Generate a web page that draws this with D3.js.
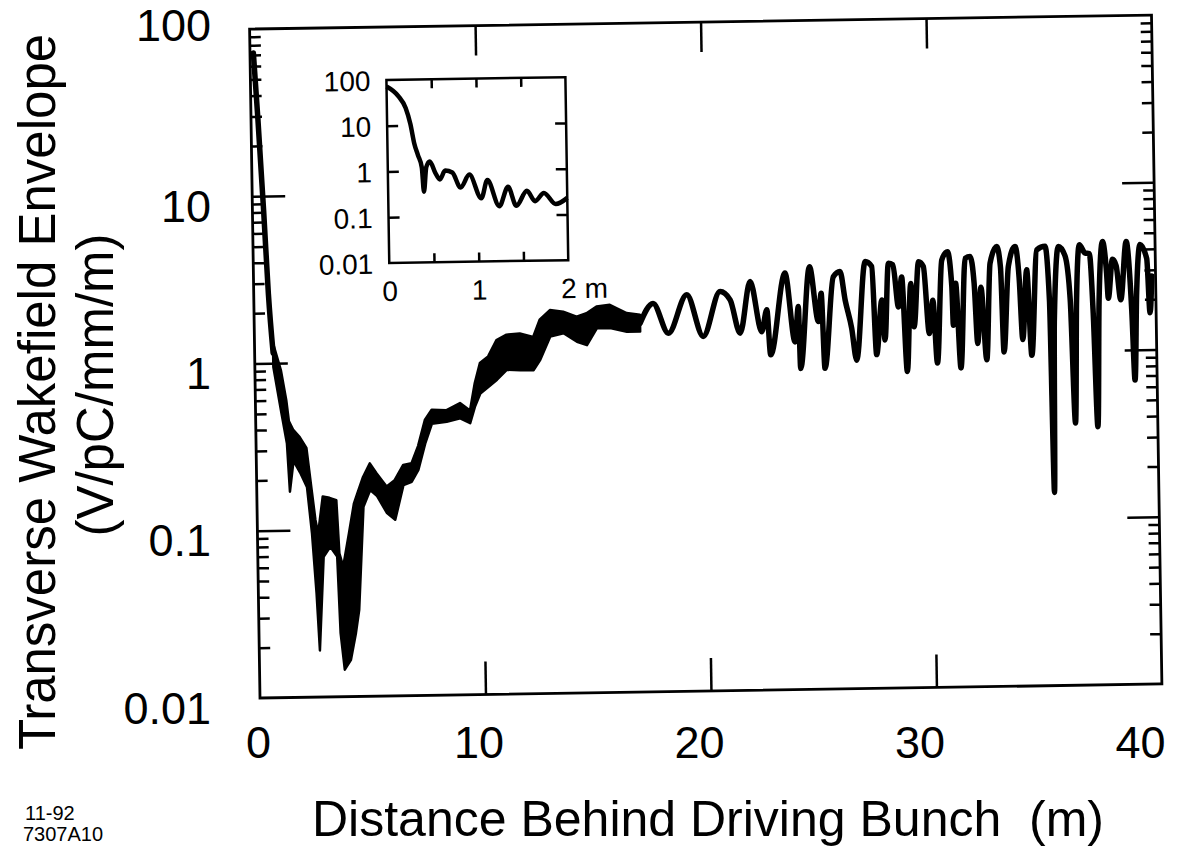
<!DOCTYPE html>
<html lang="en">
<head>
<meta charset="UTF-8">
<title>Transverse Wakefield Envelope</title>
<script src="https://d3js.org/d3.v7.min.js"></script>
<style>
  body { margin: 0; background: #fff; }
  svg { display: block; }
  text { font-family: "Liberation Sans", Arial, Helvetica, sans-serif; fill: #000; }
</style>
</head>
<body>
<svg id="chart" width="1199" height="846"></svg>
<script>
// ---- data ----
// noisy band part of the main trace (upper / lower edge), metres behind bunch
const bandDist = [0.82, 1.15, 1.37, 1.47, 1.65, 1.94, 2.23, 2.42, 2.58, 2.69, 2.92, 3.22, 3.52, 3.62, 3.78,
  4.06, 4.30, 4.46, 4.72, 5.03, 5.32, 5.76, 6.12, 6.51, 6.88, 7.18, 7.50, 7.81, 8.47, 9.07, 9.51, 9.74,
  9.98, 10.35, 10.73, 11.18, 11.77, 12.36, 12.66, 13.12, 13.71, 14.30, 14.74, 15.19, 15.78, 16.52, 17.11];
const bandHigh = [1.32, 0.91, 0.60, 0.45, 0.40, 0.36, 0.31, 0.18, 0.115, 0.095, 0.158, 0.155, 0.15, 0.072, 0.060,
  0.095, 0.143, 0.164, 0.205, 0.247, 0.215, 0.179, 0.195, 0.24, 0.245, 0.31, 0.443, 0.51, 0.505, 0.555, 0.50, 0.73,
  0.96, 1.05, 1.31, 1.41, 1.43, 1.36, 1.72, 1.96, 1.91, 1.78, 1.86, 2.04, 2.08, 1.85, 1.80];
const bandLow = [0.95, 0.50, 0.33, 0.17, 0.26, 0.22, 0.18, 0.095, 0.042, 0.019, 0.069, 0.079, 0.069, 0.024, 0.0145,
  0.0166, 0.024, 0.033, 0.136, 0.171, 0.158, 0.124, 0.113, 0.182, 0.19, 0.223, 0.32, 0.42, 0.43, 0.45, 0.42, 0.53,
  0.63, 0.69, 0.76, 0.87, 0.86, 0.86, 0.99, 1.36, 1.42, 1.26, 1.20, 1.51, 1.51, 1.43, 1.43];

// first steep drop along the left axis
const dropDist = [0.15, 0.30, 0.50, 0.65, 0.82];
const dropVal = [72, 30, 8, 2.6, 1.15];

// single oscillating trace, 17 m .. 40 m
const waveDist = [17.11, 17.7, 18.36, 19.2, 19.9, 20.68, 21.12, 21.54, 22.02, 22.5, 22.74, 22.88, 23.57, 23.97,
  24.14, 24.2, 24.66, 25.02, 25.16, 25.28, 25.71, 26.01, 26.22, 26.49, 26.69, 27.13, 27.42, 27.58, 27.85, 27.96,
  28.16, 28.36, 28.58, 28.74, 28.93, 29.14, 29.26, 29.5, 29.71, 29.93, 30.11, 30.27, 30.53, 30.79, 30.96, 31.0,
  31.13, 31.31, 31.57, 31.79, 31.95, 32.07, 32.25, 32.46, 32.67, 32.98, 33.13, 33.23, 33.48, 33.79, 33.95, 34.07,
  34.29, 34.46, 34.75, 35.12, 35.28, 35.37, 35.48, 35.71, 36.0, 36.2, 36.35, 36.48, 36.64, 36.89, 37.08, 37.21,
  37.34, 37.48, 37.67, 37.83, 37.89, 38.1, 38.26, 38.44, 38.72, 38.92, 39.02, 39.15, 39.33, 39.62, 39.73, 39.83];
const waveVal = [1.60, 2.1, 1.39, 2.35, 1.32, 2.44, 2.17, 1.37, 2.78, 1.39, 1.88, 1.01, 3.1, 1.2,
  1.95, 0.83, 3.37, 1.58, 2.33, 0.83, 2.92, 3.13, 2.11, 1.43, 0.92, 3.57, 3.33, 0.99, 2.1, 1.21,
  3.47, 3.4, 1.9, 2.87, 0.78, 2.62, 1.44, 3.52, 3.3, 1.31, 2.07, 0.87, 3.59, 4.02, 2.48, 1.46,
  2.6, 0.81, 3.66, 3.74, 2.59, 1.13, 2.45, 0.9, 3.4, 4.27, 3.2, 1.0, 3.25, 4.26, 2.75, 1.18,
  3.08, 0.95, 4.05, 4.24, 2.0, 0.143, 1.5, 4.22, 3.7, 2.02, 0.37, 2.0, 4.3, 3.83, 3.8, 1.68,
  0.35, 2.0, 4.48, 2.9, 2.05, 3.5, 3.2, 2.0, 4.46, 1.74, 0.66, 2.2, 4.26, 3.5, 1.66, 2.75];

// inset: first 2 m
const insetDist = [0, 0.13, 0.21, 0.26, 0.30, 0.34, 0.38, 0.40, 0.43, 0.47, 0.53, 0.58, 0.64, 0.72, 0.81,
  0.91, 1.04, 1.11, 1.24, 1.34, 1.43, 1.55, 1.64, 1.74, 1.87, 2.0];
const insetVal = [72, 44, 24, 10.7, 4, 2.2, 1.2, 0.35, 1.2, 1.6, 0.9, 0.64, 1.0, 0.9, 0.42,
  0.8, 0.24, 0.6, 0.16, 0.42, 0.16, 0.34, 0.2, 0.3, 0.17, 0.23];

const xTicks = [0, 10, 20, 30, 40];
const xInnerTicks = [10, 20, 30];
const yTicks = [0.01, 0.1, 1, 10, 100];
const yInnerTicks = [0.1, 1, 10];
const yTickLabels = ["0.01", "0.1", "1", "10", "100"];
const insetXTicks = [0, 1, 2];
const insetXLabels = ["0", "1", "2 m"];
const insetXInner = [0.5, 1, 1.5];

// ---- drawing ----
const svg = d3.select("#chart");
svg.append("rect").attr("width", 1199).attr("height", 846).attr("fill", "#fff");

const x = d3.scaleLinear().domain([0, 40]).range([260, 1162]);
const y = d3.scaleLog().domain([0.01, 100]).range([698, 29]);
// the pasted-up tick numbers sit a little off the ticks in the scan
const xLabel = d3.scaleLinear().domain([0, 40]).range([258, 1140]);
const tilt = -0.89;   // the scanned plot is slightly turned

const isDecade = v => Math.abs(Math.log10(v) - Math.round(Math.log10(v))) < 1e-6;
const minorTicks = y.ticks().filter(v => !isDecade(v));

const plot = svg.append("g")
    .attr("transform", `rotate(${tilt},${x(0)},${y(0.01)})`);

// band
const band = bandDist.map((d, i) => ({ d, hi: bandHigh[i], lo: bandLow[i] }));
plot.append("path")
    .datum(band)
    .attr("fill", "#000")
    .attr("stroke", "#000")
    .attr("stroke-width", 2.5)
    .attr("stroke-linejoin", "round")
    .attr("d", d3.area().x(p => x(p.d)).y0(p => y(p.lo)).y1(p => y(p.hi)));

const line = d3.line().x(p => x(p.d)).y(p => y(p.v)).curve(d3.curveMonotoneX);
[[dropDist, dropVal], [waveDist, waveVal]].forEach(([ds, vs]) => {
    plot.append("path")
        .datum(ds.map((d, i) => ({ d, v: vs[i] })))
        .attr("fill", "none")
        .attr("stroke", "#000")
        .attr("stroke-width", 5.5)
        .attr("stroke-linejoin", "round")
        .attr("stroke-linecap", "round")
        .attr("d", line);
});

// frame and ticks
plot.append("rect")
    .attr("x", x(0)).attr("y", y(100))
    .attr("width", x(40) - x(0)).attr("height", y(0.01) - y(100))
    .attr("fill", "none").attr("stroke", "#000").attr("stroke-width", 2.8);

function ticks(axis, tx, ty) {
    plot.append("g")
        .attr("transform", `translate(${tx},${ty})`)
        .call(axis.tickFormat("").tickSizeOuter(0))
        .call(g => g.select(".domain").remove())
        .selectAll("line").attr("stroke-width", 2.5);
}
ticks(d3.axisRight(y).tickValues(minorTicks).tickSize(11), x(0), 0);
ticks(d3.axisRight(y).tickValues(yInnerTicks).tickSize(33), x(0), 0);
ticks(d3.axisLeft(y).tickValues(minorTicks).tickSize(11), x(40), 0);
ticks(d3.axisLeft(y).tickValues(yInnerTicks).tickSize(32), x(40), 0);
ticks(d3.axisBottom(x).tickValues(xInnerTicks).tickSize(30), 0, y(100));
ticks(d3.axisTop(x).tickValues(xInnerTicks).tickSize(33), 0, y(0.01));

// inset
const xi = d3.scaleLinear().domain([0, 2]).range([396, 575]);
const yi = d3.scaleLog().domain([0.01, 100]).range([265, 82]);
plot.append("rect")
    .attr("x", xi(0)).attr("y", yi(100))
    .attr("width", xi(2) - xi(0)).attr("height", yi(0.01) - yi(100))
    .attr("fill", "#fff").attr("stroke", "#000").attr("stroke-width", 2.5);
plot.append("path")
    .datum(insetDist.map((d, i) => ({ d, v: insetVal[i] })))
    .attr("fill", "none")
    .attr("stroke", "#000")
    .attr("stroke-width", 4.5)
    .attr("stroke-linejoin", "round")
    .attr("d", d3.line().x(p => xi(p.d)).y(p => yi(p.v)).curve(d3.curveMonotoneX));

ticks(d3.axisRight(yi).tickValues(yInnerTicks).tickSize(11), xi(0), 0);
ticks(d3.axisLeft(yi).tickValues(yInnerTicks).tickSize(11), xi(2), 0);
ticks(d3.axisBottom(xi).tickValues(insetXInner).tickSize(9), 0, yi(100));
ticks(d3.axisTop(xi).tickValues(insetXInner).tickSize(9), 0, yi(0.01));

// inset labels
plot.append("g")
    .attr("transform", `translate(${xi(0) - 16},0)`)
    .call(d3.axisLeft(yi).tickValues(yTicks).tickSize(0).tickPadding(0)
        .tickFormat((d, i) => yTickLabels[i]))
    .call(g => g.select(".domain").remove())
    .selectAll("text")
    .style("font-size", "28px").attr("dy", "0.36em");

plot.append("g")
    .attr("transform", `translate(0,${yi(0.01) + 38})`)
    .call(d3.axisBottom(xi).tickValues(insetXTicks).tickSize(0).tickPadding(0)
        .tickFormat((d, i) => insetXLabels[i]))
    .call(g => g.select(".domain").remove())
    .selectAll("text")
    .style("font-size", "28px").attr("y", 0).attr("dy", 0)
    .style("white-space", "pre")
    .attr("text-anchor", d => d === 2 ? "start" : "middle")
    .attr("x", d => d === 2 ? -8 : 0);

// main tick labels (not turned in the scan)
svg.append("g")
    .attr("transform", "translate(211,0)")
    .call(d3.axisLeft(y).tickValues(yTicks).tickSize(0).tickPadding(0)
        .tickFormat((d, i) => yTickLabels[i]))
    .call(g => g.select(".domain").remove())
    .selectAll("text")
    .style("font-size", "45px")
    .attr("dy", "0.36em")
    .attr("y", d => d === 100 ? -5 : 9);

svg.append("g")
    .attr("transform", "translate(0,758)")
    .call(d3.axisBottom(xLabel).tickValues(xTicks).tickSize(0).tickPadding(0))
    .call(g => g.select(".domain").remove())
    .selectAll("text")
    .style("font-size", "45px")
    .attr("y", 0).attr("dy", 0);

// axis titles
svg.append("text")
    .attr("transform", "translate(55,392) rotate(-90)")
    .attr("text-anchor", "middle")
    .style("font-size", "51px")
    .text("Transverse Wakefield Envelope");
svg.append("text")
    .attr("transform", "translate(113,385) rotate(-90)")
    .attr("text-anchor", "middle")
    .style("font-size", "51px")
    .text("(V/pC/mm/m)");
svg.append("text")
    .attr("x", 708).attr("y", 836)
    .attr("text-anchor", "middle")
    .style("font-size", "50px")
    .style("white-space", "pre")
    .text("Distance Behind Driving Bunch  (m)");

// figure codes
svg.append("text").attr("x", 25).attr("y", 820).style("font-size", "20px").text("11-92");
svg.append("text").attr("x", 23).attr("y", 841).style("font-size", "20px").text("7307A10");
</script>
</body>
</html>
